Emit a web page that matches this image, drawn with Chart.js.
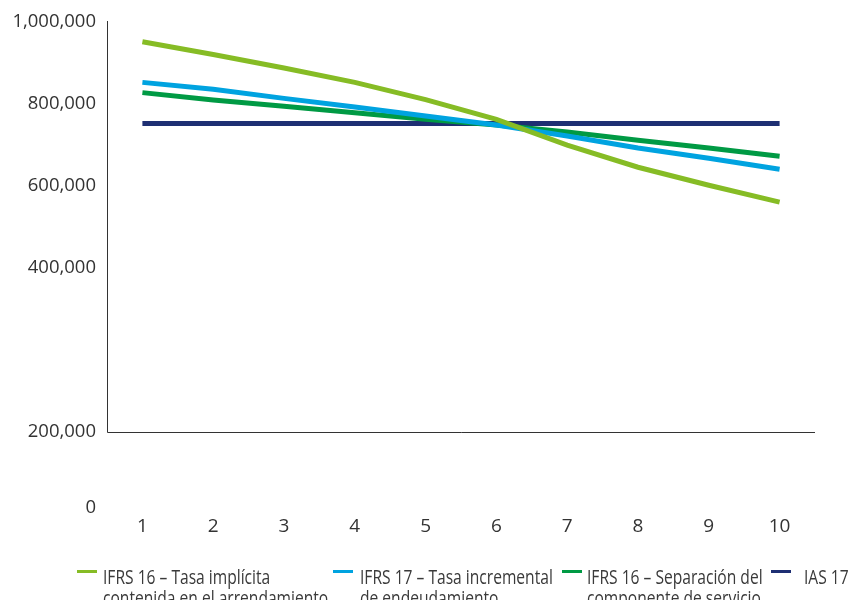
<!DOCTYPE html>
<html>
<head>
<meta charset="utf-8">
<script src="https://cdn.jsdelivr.net/npm/chart.js@4/dist/chart.umd.min.js"></script>
<style>
  html, body { margin: 0; padding: 0; background: #ffffff; }
  #wrap { position: relative; width: 864px; height: 600px; overflow: hidden; }
  #chart { position: absolute; left: 0; top: 0; }
  .lg-swatch { position: absolute; top: 570px; width: 20px; height: 3px; }
  .lg-text {
    position: absolute; top: 566px; white-space: pre-line;
    font-family: "Open Sans", sans-serif; font-size: 20px; line-height: 21px;
    color: #3a3a3a; transform: scaleX(0.78); transform-origin: left top;
  }
</style>
</head>
<body>
<div id="wrap">
  <canvas id="chart" width="864" height="600"></canvas>
  <div id="legend"></div>
</div>
<script>
// Years of the lease term
const categories = ['1', '2', '3', '4', '5', '6', '7', '8', '9', '10'];

// Liability / expense under each accounting approach
const ifrs16Implicita   = [952000, 921000, 888000, 853000, 811000, 763000, 700000, 646000, 602000, 561000];
const ifrs17Incremental = [853000, 836000, 814000, 793000, 771000, 749000, 722000, 693000, 668000, 641000];
const ifrs16Separacion  = [828000, 810000, 795000, 779000, 763000, 749000, 732000, 712000, 693000, 673000];
const ias17             = [753000, 753000, 753000, 753000, 753000, 753000, 753000, 753000, 753000, 753000];

const seriesNames = [
  'IFRS 16 – Tasa implícita\ncontenida en el arrendamiento',
  'IFRS 17 – Tasa incremental\nde endeudamiento',
  'IFRS 16 – Separación del\ncomponente de servicio',
  'IAS 17'
];
const seriesColors = ['#86BC25', '#00A3E0', '#009A44', '#1E2F73'];

// Vertical axis ticks (value position and printed text)
const yTickValues = [-185000, 0, 400000, 600000, 800000, 1000000];
const yTickLabels = ['0', '200,000', '400,000', '600,000', '800,000', '1,000,000'];

// Legend placement: swatch and text left edges
const legendSwatchX = [77, 333, 562, 771];
const legendTextX   = [103, 360, 587, 804];

const seriesData = [ifrs16Implicita, ifrs17Incremental, ifrs16Separacion, ias17];

// Axis lines: y axis from the top value down to zero, x axis along zero
const axisLines = {
  id: 'axisLines',
  beforeDatasetsDraw(chart) {
    const { ctx, chartArea, scales } = chart;
    const y = scales.y;
    const yZero = Math.round(y.getPixelForValue(0)) + 0.5;
    const yTop = Math.round(y.getPixelForValue(1000000)) - 1;
    const xLeft = Math.round(chartArea.left) + 0.5;
    ctx.save();
    ctx.strokeStyle = '#333333';
    ctx.lineWidth = 1;
    ctx.beginPath();
    ctx.moveTo(xLeft, yTop);
    ctx.lineTo(xLeft, yZero);
    ctx.lineTo(chartArea.right, yZero);
    ctx.stroke();
    ctx.restore();
  }
};

const chart = new Chart(document.getElementById('chart'), {
  type: 'line',
  data: {
    labels: categories,
    datasets: seriesData.map((d, i) => ({
      label: seriesNames[i],
      data: d,
      borderColor: seriesColors[i],
      backgroundColor: seriesColors[i],
      borderWidth: 5,
      pointRadius: 0,
      tension: 0,
      borderCapStyle: 'butt',
      fill: false
    }))
  },
  options: {
    responsive: false,
    animation: false,
    layout: { padding: { top: 22, right: 49, left: 0, bottom: 0 } },
    plugins: { legend: { display: false }, tooltip: { enabled: false } },
    scales: {
      x: {
        offset: true,
        grid: { display: false, drawTicks: false },
        border: { display: false },
        ticks: {
          color: '#333333',
          font: { family: 'Open Sans', size: 19 },
          padding: 7,
          maxRotation: 0
        },
        afterFit(scale) { scale.height = 92; }
      },
      y: {
        min: -185000,
        max: 1000000,
        grid: { display: false, drawTicks: false },
        border: { display: false },
        afterBuildTicks(scale) {
          scale.ticks = yTickValues.map(v => ({ value: v }));
        },
        ticks: {
          color: '#333333',
          font: { family: 'Open Sans', size: 18.5 },
          padding: 11,
          callback: (value, index) => yTickLabels[index]
        },
        afterFit(scale) { scale.width = 107; }
      }
    }
  },
  plugins: [axisLines]
});

// Legend built from the chart's datasets
const legend = document.getElementById('legend');
chart.data.datasets.forEach((ds, i) => {
  const sw = document.createElement('div');
  sw.className = 'lg-swatch';
  sw.style.left = legendSwatchX[i] + 'px';
  sw.style.background = ds.borderColor;
  const tx = document.createElement('div');
  tx.className = 'lg-text';
  tx.style.left = legendTextX[i] + 'px';
  tx.textContent = ds.label;
  legend.appendChild(sw);
  legend.appendChild(tx);
});
</script>
</body>
</html>
